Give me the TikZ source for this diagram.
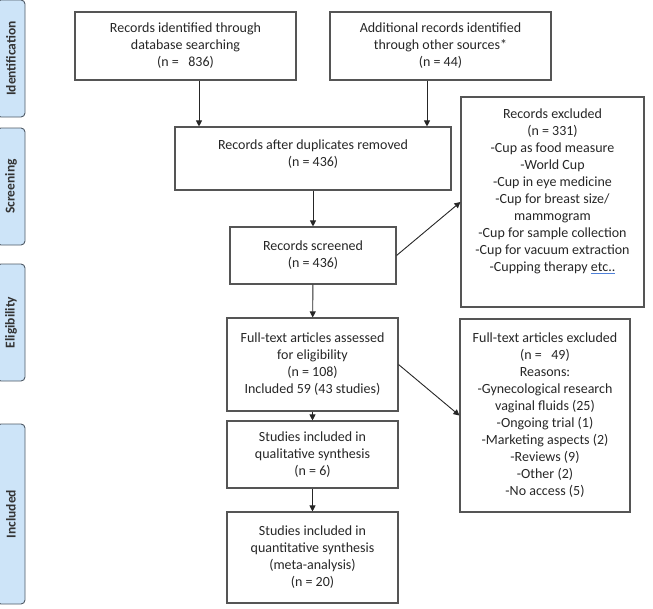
\documentclass[tikz,border=0pt]{standalone}
\usepackage{fontspec}
\setmainfont{Carlito}
\usetikzlibrary{arrows.meta}
\definecolor{tabblue}{HTML}{CDE4F8}
\definecolor{tabline}{HTML}{4F5A66}
\definecolor{boxline}{HTML}{555555}
\definecolor{spellblue}{HTML}{4F81D9}
\begin{document}
\begin{tikzpicture}[x=1pt,y=-1pt]
  \tikzstyle{box}=[draw=boxline,line width=1.1pt,align=center,inner sep=2pt,
                   font=\fontsize{14}{17}\selectfont,text=black!85]
  \tikzstyle{stage}=[draw=tabline,fill=tabblue,line width=0.9pt,rounded corners=4pt,
                     rotate=90,minimum height=28pt,font=\fontsize{13.5}{15}\selectfont\bfseries,
                     text=black!80]
  \tikzstyle{link}=[-{Triangle[length=6pt,width=6pt]},line width=0.9pt,black!85]
  \useasboundingbox (0,0) rectangle (653,608);
  \node[stage,minimum width=117pt] (tid)  at (11,58.5)  {Identification};
  \node[stage,minimum width=117pt] (tscr) at (11,186.5) {Screening};
  \node[stage,minimum width=117pt] (tel)  at (11,322.5) {Eligibility};
  \node[stage,minimum width=180pt] (tinc) at (11,514)   {Included};
  \node[box,minimum width=221pt,minimum height=68pt] (db)  at (185.5,46)
       {Records identified through\\database searching\\(n = \ \ 836)};
  \node[box,minimum width=221pt,minimum height=68pt] (oth) at (440.5,46)
       {Additional records identified\\through other sources*\\(n = 44)};
  \node[box,minimum width=276pt,minimum height=63pt,text depth=10pt] (dup) at (313,158.5)
       {Records after duplicates removed\\(n = 436)};
  \node[box,minimum width=166pt,minimum height=57pt] (scr) at (313,255.5)
       {Records screened\\(n = 436)};
  \node[box,minimum width=183pt,minimum height=210pt,text depth=24pt] (exc) at (552.5,202)
       {Records excluded\\(n = 331)\\-Cup as food measure\\-World Cup\\-Cup in eye medicine\\
        -Cup for breast size/\\mammogram\\-Cup for sample collection\\
        -Cup for vacuum extraction\\-Cupping therapy \textcolor{spellblue}{\underline{\textcolor{black!85}{etc..}}}};
  \node[box,minimum width=171pt,minimum height=93pt] (full) at (312.5,364.5)
       {Full-text articles assessed\\for eligibility\\(n = 108)\\Included 59 (43 studies)};
  \node[box,minimum width=170pt,minimum height=193pt] (fexc) at (545,415.5)
       {Full-text articles excluded\\(n = \ \ 49)\\Reasons:\\-Gynecological research\\
        vaginal fluids (25)\\-Ongoing trial (1)\\-Marketing aspects (2)\\-Reviews (9)\\
        -Other (2)\\-No access (5)};
  \node[box,minimum width=171pt,minimum height=67pt] (qual) at (312.5,454.5)
       {Studies included in\\qualitative synthesis\\(n = 6)};
  \node[box,minimum width=171pt,minimum height=91pt] (quant) at (312.5,557.5)
       {Studies included in\\quantitative synthesis\\(meta-analysis)\\(n = 20)};
  \draw[link] ([xshift=13.5pt]db.south) -- ([xshift=13.5pt]db.south |- dup.north);
  \draw[link] ([xshift=-13.5pt]oth.south) -- ([xshift=-13.5pt]oth.south |- dup.north);
  \draw[link] (dup) -- (scr);
  \draw[link] (scr) -- (full);
  \draw[link] (scr.east) -- (exc.west);
  \draw[link] (full) -- (qual);
  \draw[link] (full.east) -- (fexc.west);
  \draw[link] (qual) -- (quant);
\end{tikzpicture}
\end{document}
